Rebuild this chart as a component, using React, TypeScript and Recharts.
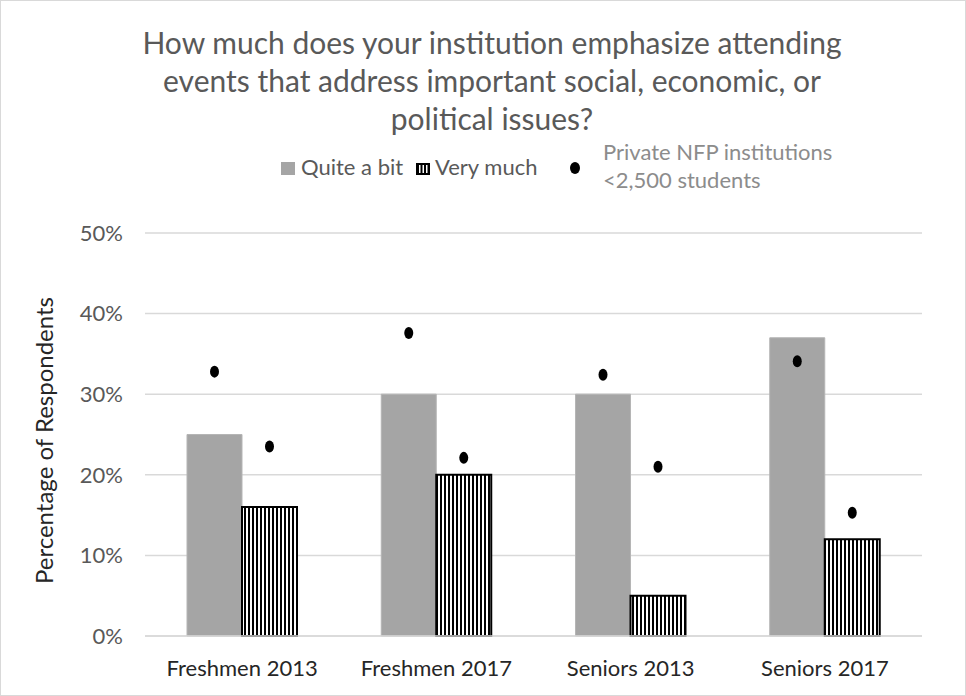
import React from 'react';
import { ComposedChart, Bar, XAxis, YAxis, CartesianGrid } from 'recharts';

const categories = ['Freshmen 2013', 'Freshmen 2017', 'Seniors 2013', 'Seniors 2017'];
const quiteABit = [25, 30, 30, 37];
const veryMuch = [16, 20, 5, 12];
// comparison group: private not-for-profit institutions under 2,500 students
const peerQuiteABit = [32.8, 37.6, 32.4, 34.1];
const peerVeryMuch = [23.5, 22.1, 21.0, 15.3];
const yTicks = [0, 10, 20, 30, 40, 50];

const titleLines = [
  'How much does your institution emphasize attending',
  'events that address important social, economic, or',
  'political issues?',
];

const data = categories.map((name, i) => ({
  name,
  quite: quiteABit[i],
  very: veryMuch[i],
  peerQuite: peerQuiteABit[i],
  peerVery: peerVeryMuch[i],
}));

const FONT = 'Lato, "Open Sans", sans-serif';
const GREY_BAR = '#a5a5a5';

// draws the comparison value as a dot at the top of an invisible bar
const PeerDot = (props: any) => {
  const { x, y, width } = props;
  return <ellipse cx={x + width / 2} cy={y} rx={4.5} ry={6} fill="#000" />;
};

// title and legend sit above the plot in their own layer
function Header() {
  return (
    <svg
      width={966}
      height={200}
      style={{ position: 'absolute', top: -1, left: -1 }}
      fontFamily={FONT}
    >
      {titleLines.map((line, i) => (
        <text key={i} x={492} y={54 + i * 38} textAnchor="middle" fontSize={30} fill="#595959">
          {line}
        </text>
      ))}
      <g fontSize={22}>
        <rect x={281} y={162} width={14} height={13} fill={GREY_BAR} />
        <text x={301} y={175} fill="#595959">
          Quite a bit
        </text>
        <rect x={416} y={163} width={14} height={12} fill="#000" />
        {[419, 422.5, 426].map((sx) => (
          <rect key={sx} x={sx} y={165} width={1.5} height={8} fill="#fff" />
        ))}
        <text x={435} y={175} fill="#595959">
          Very much
        </text>
        <ellipse cx={575} cy={168} rx={5} ry={6} fill="#000" />
        <text x={603} y={160} fill="#8c8c8c">
          Private NFP institutions
        </text>
        <text x={603} y={188} fill="#8c8c8c">
          &lt;2,500 students
        </text>
      </g>
    </svg>
  );
}

export default function App() {
  return (
    <div
      style={{
        position: 'absolute',
        top: 0,
        left: 0,
        width: 966,
        height: 696,
        background: '#fff',
        border: '1px solid #d9d9d9',
        boxSizing: 'border-box',
      }}
    >
      <div style={{ position: 'absolute', top: -1, left: -1 }}>
        <ComposedChart
          width={966}
          height={696}
          data={data}
          margin={{ top: 233, right: 44, bottom: 0, left: 0 }}
          barGap={0}
        >
          <defs>
            <pattern id="vstripes" patternUnits="userSpaceOnUse" width={4} height={8}>
              <rect width={4} height={8} fill="#fff" />
              <rect width={2} height={8} fill="#000" />
            </pattern>
          </defs>
          <CartesianGrid vertical={false} stroke="#d9d9d9" strokeWidth={1.5} />
          <XAxis
            dataKey="name"
            height={60}
            axisLine={{ stroke: '#d9d9d9', strokeWidth: 1.5 }}
            tickLine={false}
            tickSize={0}
            tickMargin={24}
            tick={{ fontFamily: FONT, fontSize: 22, fill: '#262626' }}
          />
          <XAxis xAxisId="peer" dataKey="name" hide />
          <YAxis
            width={145}
            domain={[0, 50]}
            ticks={yTicks}
            tickFormatter={(v) => `${v}%`}
            axisLine={false}
            tickLine={false}
            tickSize={0}
            tickMargin={22}
            tick={{ fontFamily: FONT, fontSize: 22, fill: '#595959' }}
            label={{
              value: 'Percentage of Respondents',
              angle: -90,
              position: 'center',
              dx: -28.5,
              dy: 6,
              style: { fontFamily: FONT, fontSize: 24, fill: '#262626' },
            }}
          />
          <Bar dataKey="quite" barSize={55} fill={GREY_BAR} stroke="#b5b5b5" isAnimationActive={false} />
          <Bar
            dataKey="very"
            barSize={55}
            fill="url(#vstripes)"
            stroke="#000"
            strokeWidth={2}
            isAnimationActive={false}
          />
          <Bar xAxisId="peer" dataKey="peerQuite" barSize={55} shape={PeerDot} isAnimationActive={false} />
          <Bar xAxisId="peer" dataKey="peerVery" barSize={55} shape={PeerDot} isAnimationActive={false} />
        </ComposedChart>
      </div>
      <Header />
    </div>
  );
}
